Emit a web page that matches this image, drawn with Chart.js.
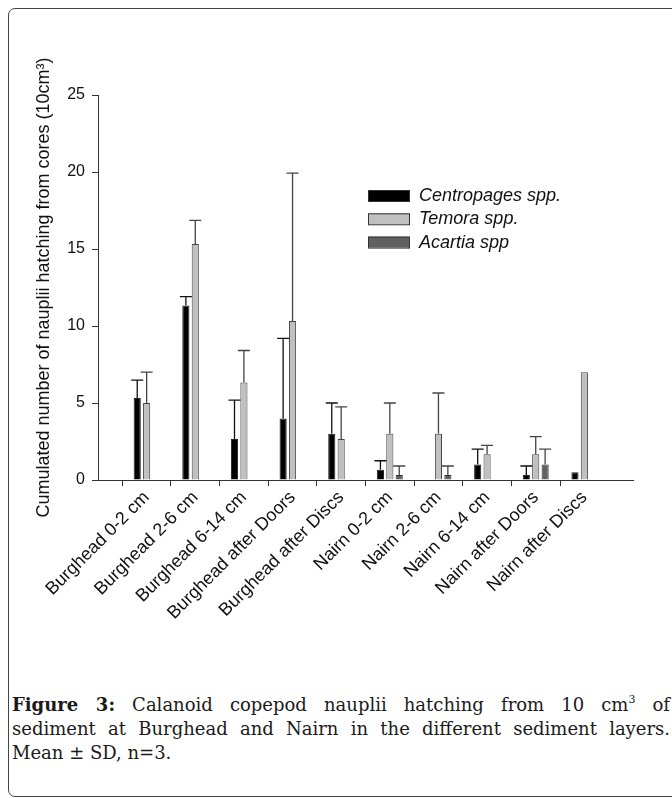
<!DOCTYPE html>
<html>
<head>
<meta charset="utf-8">
<script src="https://cdn.jsdelivr.net/npm/chart.js@4.4.0/dist/chart.umd.min.js"></script>
<style>
  html, body { margin: 0; padding: 0; background: #fff; overflow: hidden; width: 672px; height: 798px; }
  #frame { position: absolute; left: 8px; top: 8px; width: 720px; height: 787px; border: 1px solid #444; border-radius: 7px; }
  #wrap { position: absolute; left: 0; top: 0; width: 672px; height: 690px; }
  #caption { position: absolute; left: 12px; top: 693px; width: 658px; font-family: "DejaVu Serif", serif; font-size: 18px; line-height: 24px; color: #1a1a1a; }
  #caption div { text-align: justify; text-align-last: justify; }
  #caption div.last { text-align-last: left; }
  #caption sup { font-size: 11px; line-height: 0; vertical-align: 8px; }
</style>
</head>
<body>
<div id="frame"></div>
<div id="wrap"><canvas id="chart"></canvas></div>
<div id="caption">
  <div><b>Figure 3:</b> Calanoid copepod nauplii hatching from 10 cm<sup>3</sup> of</div>
  <div>sediment at Burghead and Nairn in the different sediment layers.</div>
  <div class="last">Mean ± SD, n=3.</div>
</div>
<script>
// categories and values (mean and SD, n=3)
const categories = ["Burghead 0-2 cm", "Burghead 2-6 cm", "Burghead 6-14 cm", "Burghead after Doors",
  "Burghead after Discs", "Nairn 0-2 cm", "Nairn 2-6 cm", "Nairn 6-14 cm", "Nairn after Doors", "Nairn after Discs"];
const centropages = [5.33, 11.33, 2.67, 4.0, 3.0, 0.67, 0, 1.0, 0.33, 0.5];
const centropagesSD = [1.15, 0.58, 2.52, 5.2, 2.0, 0.58, 0, 1.0, 0.58, 0];
const temora = [5.0, 15.33, 6.33, 10.33, 2.67, 3.0, 3.0, 1.67, 1.67, 7.0];
const temoraSD = [2.0, 1.53, 2.08, 9.6, 2.08, 2.0, 2.65, 0.58, 1.15, 0];
const acartia = [0, 0, 0, 0, 0, 0.33, 0.33, 0, 1.0, 0];
const acartiaSD = [0, 0, 0, 0, 0, 0.58, 0.58, 0, 1.0, 0];
const yTicks = [0, 5, 10, 15, 20, 25];

// one empty slot on each side, like the original axis
const labels = [""].concat(categories, [""]);
const pad = arr => [null].concat(arr, [null]);

const errorBars = {
  id: "errorBars",
  afterDatasetsDraw(chart) {
    const ctx = chart.ctx;
    const y = chart.scales.y;
    chart.data.datasets.forEach((ds, di) => {
      const meta = chart.getDatasetMeta(di);
      ds.sd.forEach((sd, i) => {
        const v = ds.data[i];
        if (!sd || v == null) return;
        const bar = meta.data[i];
        const top = y.getPixelForValue(v + sd);
        ctx.save();
        ctx.strokeStyle = ds.errColor;
        ctx.lineWidth = 1.3;
        ctx.beginPath();
        ctx.moveTo(bar.x, bar.y);
        ctx.lineTo(bar.x, top);
        ctx.moveTo(bar.x - 6, top);
        ctx.lineTo(bar.x + 6, top);
        ctx.stroke();
        ctx.restore();
      });
    });
  }
};

const boxLegend = {
  id: "boxLegend",
  afterDraw(chart) {
    const ctx = chart.ctx;
    chart.data.datasets.forEach((ds, i) => {
      const top = 190 + i * 23.3;
      ctx.save();
      ctx.fillStyle = ds.backgroundColor;
      ctx.strokeStyle = "#333";
      ctx.lineWidth = 1;
      ctx.fillRect(368, top, 41, 11);
      ctx.strokeRect(368.5, top + 0.5, 41, 11);
      ctx.fillStyle = "#111";
      ctx.font = "italic 18px 'Liberation Sans', Arial, sans-serif";
      ctx.textBaseline = "middle";
      ctx.fillText(ds.label, 419, top + 6);
      ctx.restore();
    });
  }
};

new Chart(document.getElementById("chart"), {
  type: "bar",
  data: {
    labels: labels,
    datasets: [
      { label: "Centropages spp.", data: pad(centropages), sd: pad(centropagesSD), backgroundColor: "#000000", borderColor: "#222", errColor: "#111" },
      { label: "Temora spp.", data: pad(temora), sd: pad(temoraSD), backgroundColor: "#c0c0c0", borderColor: "#444", errColor: "#444" },
      { label: "Acartia spp", data: pad(acartia), sd: pad(acartiaSD), backgroundColor: "#606060", borderColor: "#333", errColor: "#444" }
    ].map(d => Object.assign(d, {
      borderWidth: c => (c.raw ? 1 : 0),
      categoryPercentage: 0.58,
      barPercentage: 0.76
    }))
  },
  options: {
    responsive: true,
    maintainAspectRatio: false,
    animation: false,
    layout: { padding: { left: 0, top: 95, right: 39, bottom: 0 } },
    plugins: { legend: { display: false }, tooltip: { enabled: false } },
    scales: {
      x: {
        offset: false,
        afterFit: s => { s.height = 210; },
        grid: { drawOnChartArea: false, drawTicks: true, tickLength: 6,
          tickColor: c => (labels[c.index] ? "#333" : "rgba(0,0,0,0)"), color: "#333" },
        border: { display: true, color: "#333", width: 1 },
        ticks: { autoSkip: false, maxRotation: 45, minRotation: 45, padding: 1, color: "#111",
          font: { family: "'Liberation Sans', Arial, sans-serif", size: 18 } }
      },
      y: {
        min: 0,
        max: 25,
        afterFit: s => { s.width = 98; },
        afterBuildTicks: s => { s.ticks = yTicks.map(v => ({ value: v })); },
        grid: { drawOnChartArea: false, drawTicks: true, tickLength: 6, color: "#333" },
        border: { display: true, color: "#333", width: 1 },
        ticks: { padding: 7, color: "#111", font: { family: "'Liberation Sans', Arial, sans-serif", size: 16 } },
        title: {
          display: true,
          text: "Cumulated number of nauplii hatching from cores (10cm³)",
          color: "#111",
          padding: { top: 33, bottom: 0 },
          font: { family: "'Liberation Sans', Arial, sans-serif", size: 18 }
        }
      }
    }
  },
  plugins: [errorBars, boxLegend]
});
</script>
</body>
</html>
